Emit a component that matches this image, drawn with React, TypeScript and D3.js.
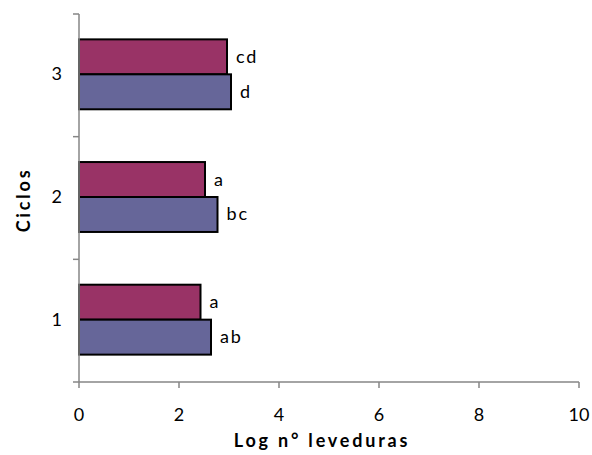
import React from "react";
import * as d3 from "d3";

const categories = ["1", "2", "3"];
const seriesPink = [2.43, 2.52, 2.96];
const seriesBlue = [2.64, 2.77, 3.04];
const labelsPink = ["a", "a", "cd"];
const labelsBlue = ["ab", "bc", "d"];
const xTicks = [0, 2, 4, 6, 8, 10];

const W = 592, H = 455;
const left = 79, right = 579, top = 14, bottom = 382;
const font = "Lato, 'Open Sans', sans-serif";

export default function App() {
  const x = d3.scaleLinear().domain([0, 10]).range([left, right]);
  // categories from bottom (1) to top (3)
  const y = d3.scaleBand<string>().domain([...categories].reverse()).range([top, bottom]).padding(0);
  const bw = y.bandwidth();
  const barH = bw * 0.285;
  const axisColor = "#868686";
  const boundaries = d3.range(categories.length + 1).map((i) => top + i * bw);

  return (
    <svg width={W} height={H} style={{ position: "absolute", left: 0, top: 0 }}>
      <rect width={W} height={H} fill="#fff" />
      {categories.map((c, i) => {
        const cy = (y(c) as number) + bw / 2 - 1;
        const pinkY = cy - barH;
        const blueY = cy;
        return (
          <g key={c}>
            <rect x={x(0)} y={pinkY} width={x(seriesPink[i]) - x(0)} height={barH} fill="#993366" stroke="#000" strokeWidth={2} />
            <rect x={x(0)} y={blueY} width={x(seriesBlue[i]) - x(0)} height={barH} fill="#666699" stroke="#000" strokeWidth={2} />
            <text x={x(seriesPink[i]) + 9} y={pinkY + barH / 2 + 6} fontFamily={font} fontSize={18} letterSpacing={1.8} fill="#000">{labelsPink[i]}</text>
            <text x={x(seriesBlue[i]) + 9} y={blueY + barH / 2 + 6} fontFamily={font} fontSize={18} letterSpacing={1.8} fill="#000">{labelsBlue[i]}</text>
            <text x={62} y={cy + 6} textAnchor="end" fontFamily={font} fontSize={18} fill="#000">{c}</text>
          </g>
        );
      })}
      {/* y axis */}
      <line x1={left} x2={left} y1={top} y2={bottom} stroke={axisColor} strokeWidth={1.5} />
      {boundaries.map((b, i) => (
        <line key={i} x1={left - 6} x2={left} y1={b} y2={b} stroke={axisColor} strokeWidth={1.5} />
      ))}
      {/* x axis */}
      <line x1={left} x2={right} y1={bottom} y2={bottom} stroke={axisColor} strokeWidth={1.5} />
      {xTicks.map((t) => (
        <g key={t}>
          <line x1={x(t)} x2={x(t)} y1={bottom} y2={bottom + 6} stroke={axisColor} strokeWidth={1.5} />
          <text x={x(t)} y={421} textAnchor="middle" fontFamily={font} fontSize={18} fill="#000">{t}</text>
        </g>
      ))}
      <text x={322} y={447} textAnchor="middle" fontFamily={font} fontSize={18} fontWeight="bold" letterSpacing={2.8} fill="#000">Log n° leveduras</text>
      <text transform={`translate(30, 200) rotate(-90)`} textAnchor="middle" fontFamily={font} fontSize={18} fontWeight="bold" letterSpacing={2.8} fill="#000">Ciclos</text>
    </svg>
  );
}
